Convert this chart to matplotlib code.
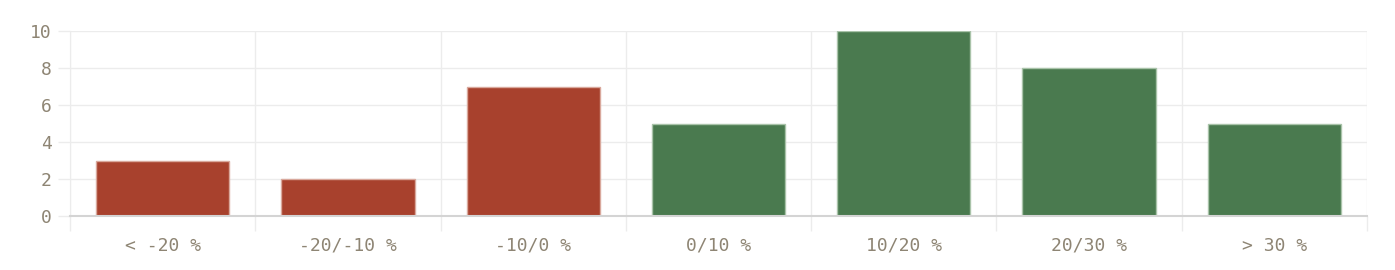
import numpy as np
import matplotlib.pyplot as plt

categories = ['< -20 %', '-20/-10 %', '-10/0 %', '0/10 %', '10/20 %', '20/30 %', '> 30 %']
counts = [3, 2, 7, 5, 10, 8, 5]
bar_colors = ['#a8412d', '#a8412d', '#a8412d', '#4a7a4f', '#4a7a4f', '#4a7a4f', '#4a7a4f']
edge_colors = ['#d9a89c', '#d9a89c', '#d9a89c', '#a9c3a9', '#a9c3a9', '#a9c3a9', '#a9c3a9']

text_color = '#8e8574'
grid_color = '#ececec'

plt.rcParams['font.family'] = ['DejaVu Sans Mono']

fig = plt.figure(figsize=(13.95, 2.7), dpi=100)
ax = fig.add_axes([70 / 1395, 1 - 216 / 270, (1367 - 70) / 1395, (216 - 31) / 270])

x = np.arange(len(categories))
ax.bar(x, counts, width=0.72, color=bar_colors, edgecolor=edge_colors, linewidth=1, zorder=3)

ax.set_xlim(-0.5, len(categories) - 0.5)
ax.set_ylim(0, 10)

# grid lines at category boundaries, labels at centers
ax.set_xticks(np.arange(len(categories) + 1) - 0.5)
ax.set_xticklabels([])
ax.set_xticks(x, minor=True)
ax.set_xticklabels(categories, minor=True)
ax.tick_params(axis='x', which='major', length=11, color=grid_color, width=1)
ax.tick_params(axis='x', which='minor', length=0, pad=15, labelsize=13, labelcolor=text_color)

ax.set_yticks([0, 2, 4, 6, 8, 10])
ax.tick_params(axis='y', length=9, color=grid_color, width=1, pad=4, labelsize=13, labelcolor=text_color)

ax.grid(True, which='major', color=grid_color, linewidth=1, zorder=0)
ax.set_axisbelow(True)

for side in ['top', 'right']:
    ax.spines[side].set_visible(False)
ax.spines['left'].set_color(grid_color)
ax.spines['bottom'].set_color('#d4d4d4')
ax.spines['bottom'].set_linewidth(1.5)
ax.spines['bottom'].set_zorder(4)

fig.savefig('out.png', dpi=100, facecolor='white')
